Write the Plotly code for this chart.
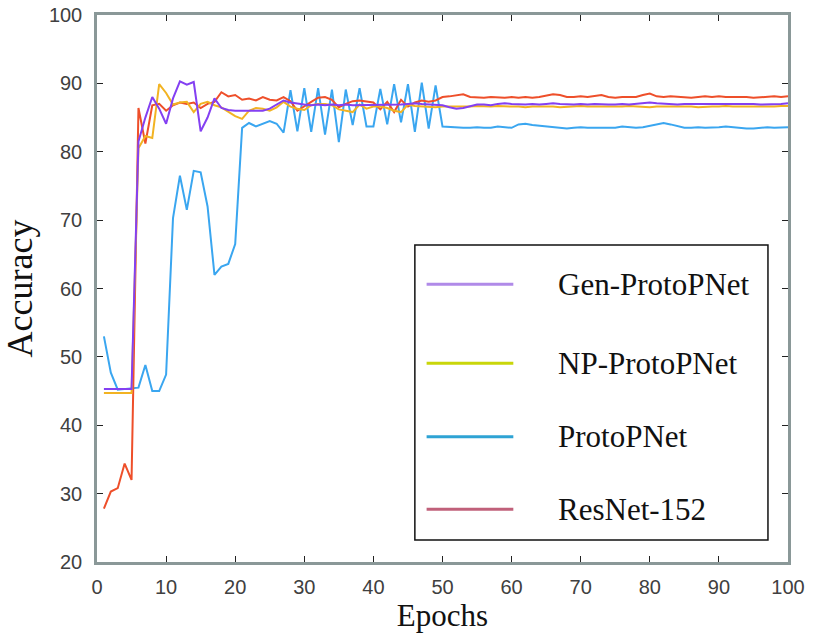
import plotly.graph_objects as go

epochs = list(range(1, 101))

gen_protopnet = [
    45.3, 45.3, 45.3, 45.3, 45.3, 81.5, 85.0, 88.0, 86.3, 84.1,
    87.8, 90.3, 89.8, 90.2, 83.0, 85.0, 87.8, 86.4, 86.1, 86.0,
    86.0, 86.1, 86.0, 86.0, 86.3, 86.9, 87.5, 87.2, 87.0, 86.9,
    86.8, 86.9, 86.8, 86.9, 86.8, 86.9, 86.8, 86.8, 86.9, 86.8,
    86.8, 86.9, 86.8, 86.9, 87.0, 87.1, 87.0, 86.9, 86.9, 86.8,
    86.5, 86.3, 86.4, 86.7, 86.9, 86.9, 86.8, 87.0, 87.1, 87.0,
    86.9, 86.9, 87.0, 86.9, 87.0, 87.1, 87.0, 86.9, 86.9, 87.0,
    86.9, 87.0, 86.9, 86.9, 86.9, 87.0, 86.9, 87.0, 87.1, 87.2,
    87.1, 87.0, 86.9, 86.9, 87.0, 87.0, 87.0, 87.0, 87.1, 87.1,
    87.0, 87.0, 87.0, 87.1, 87.0, 86.9, 86.9, 87.0, 87.0, 87.1,
]

np_protopnet = [
    44.7, 44.7, 44.7, 44.7, 44.7, 80.5, 82.3, 82.0, 89.9, 88.6,
    86.9, 87.2, 87.3, 85.8, 87.0, 87.3, 86.8, 86.5, 85.8, 85.2,
    84.8, 86.0, 86.4, 86.3, 86.0, 86.5, 87.3, 86.6, 86.3, 86.1,
    86.8, 87.0, 87.0, 86.8, 86.2, 86.0, 85.8, 86.9, 86.3, 86.6,
    86.6, 86.4, 86.0, 85.8, 86.9, 86.7, 86.6, 86.6, 86.5, 86.6,
    86.6, 86.5, 86.6, 86.6, 86.7, 86.6, 86.6, 86.7, 86.6, 86.6,
    86.6, 86.5, 86.6, 86.6, 86.7, 86.6, 86.5, 86.6, 86.6, 86.7,
    86.6, 86.6, 86.5, 86.6, 86.6, 86.6, 86.7, 86.6, 86.6, 86.5,
    86.6, 86.6, 86.6, 86.7, 86.6, 86.6, 86.5, 86.6, 86.6, 86.6,
    86.7, 86.6, 86.6, 86.6, 86.5, 86.6, 86.6, 86.6, 86.7, 86.7,
]

protopnet = [
    53.0, 47.7, 45.2, 45.3, 45.3, 45.5, 48.8, 45.0, 45.0, 47.4,
    70.3, 76.5, 71.5, 77.2, 77.0, 72.0, 62.0, 63.2, 63.6, 66.5,
    83.5, 84.2, 83.7, 84.1, 84.5, 84.1, 82.8, 89.0, 83.0, 89.3,
    82.9, 89.3, 82.5, 89.1, 81.4, 89.1, 83.9, 89.3, 83.7, 83.7,
    89.2, 84.0, 89.9, 84.3, 89.9, 82.9, 90.1, 83.4, 89.7, 83.7,
    83.6, 83.6, 83.5, 83.5, 83.6, 83.5, 83.5, 83.7, 83.6, 83.5,
    84.0, 84.1, 83.9, 83.8, 83.6, 83.6, 83.5, 83.4, 83.5, 83.6,
    83.5, 83.5, 83.6, 83.5, 83.5, 83.7, 83.6, 83.5, 83.6, 83.8,
    84.0, 84.2, 84.0, 83.7, 83.5, 83.5, 83.6, 83.5, 83.5, 83.6,
    83.7, 83.6, 83.4, 83.4, 83.4, 83.5, 83.6, 83.5, 83.5, 83.6,
]

resnet152 = [
    27.8, 30.3, 30.8, 34.4, 32.0, 86.4, 81.2, 86.8, 87.0, 86.0,
    86.8, 87.2, 87.0, 87.2, 86.4, 87.0, 87.3, 88.7, 88.1, 88.3,
    87.6, 87.8, 87.5, 88.0, 87.6, 87.5, 88.0, 87.4, 86.0, 86.7,
    87.3, 87.9, 88.0, 87.6, 86.5, 87.0, 87.4, 87.5, 87.3, 87.2,
    86.2, 87.3, 85.8, 87.6, 86.6, 87.2, 87.5, 87.3, 87.5, 88.0,
    88.1, 88.2, 88.4, 88.0, 87.9, 87.9, 88.0, 87.9, 87.9, 88.0,
    87.9, 88.0, 87.9, 88.0, 88.2, 88.4, 88.3, 88.0, 88.0, 88.1,
    88.0, 88.1, 88.3, 88.0, 87.9, 88.0, 88.0, 88.0, 88.3, 88.5,
    88.1, 88.0, 88.1, 88.0, 88.0, 87.9, 88.0, 88.1, 88.0, 88.1,
    88.0, 88.0, 88.1, 88.0, 87.9, 88.0, 88.0, 88.1, 88.0, 88.1,
]

series_names = ["Gen-ProtoPNet", "NP-ProtoPNet", "ProtoPNet", "ResNet-152"]
line_colors = {"Gen-ProtoPNet": "#8440F2", "NP-ProtoPNet": "#F2B322",
               "ProtoPNet": "#3AA6F0", "ResNet-152": "#EE4F2A"}
legend_colors = ["#B08AE8", "#C9D60A", "#2EA3D4", "#C0607A"]
series_values = {"Gen-ProtoPNet": gen_protopnet, "NP-ProtoPNet": np_protopnet,
                 "ProtoPNet": protopnet, "ResNet-152": resnet152}

x_ticks = list(range(0, 101, 10))
y_ticks = list(range(20, 101, 10))

fig = go.Figure()
for name in ["ProtoPNet", "ResNet-152", "NP-ProtoPNet", "Gen-ProtoPNet"]:
    fig.add_trace(go.Scatter(x=epochs, y=series_values[name], mode="lines",
                             name=name, showlegend=False,
                             line=dict(color=line_colors[name], width=2)))

axis_common = dict(showgrid=False, zeroline=False, showline=True, mirror="ticks",
                   linecolor="#8A9898", linewidth=2.5, ticks="inside", ticklen=6,
                   tickwidth=1.2, tickcolor="#222222", automargin=False,
                   tickfont=dict(family="Liberation Sans, Arial", size=20, color="#404040"))

serif = "Liberation Serif, Times New Roman"
fig.update_xaxes(range=[0, 100], tickvals=x_ticks, ticklabelstandoff=5,
                 title=dict(text="Epochs", font=dict(family=serif, size=31, color="#111111"), standoff=4),
                 **axis_common)
fig.update_yaxes(range=[20, 100], tickvals=y_ticks, ticklabelstandoff=8,
                 title=dict(text="Accuracy", font=dict(family=serif, size=36, color="#111111"), standoff=6),
                 **axis_common)

# Legend box drawn manually to match the reference layout
lx0, lx1, ly0, ly1 = 0.460, 0.971, 0.0402, 0.5795
fig.add_shape(type="rect", xref="paper", yref="paper", x0=lx0, x1=lx1, y0=ly0, y1=ly1,
              line=dict(color="#111111", width=1.5), fillcolor="white", layer="above")
entry_y = [0.5077, 0.3632, 0.2291, 0.0963]
for name, col, yy in zip(series_names, legend_colors, entry_y):
    fig.add_shape(type="line", xref="paper", yref="paper", x0=0.477, x1=0.6025, y0=yy, y1=yy,
                  line=dict(color=col, width=3), layer="above")
    fig.add_annotation(xref="paper", yref="paper", x=0.6643, y=yy, text=name, showarrow=False,
                       xanchor="left", yanchor="middle",
                       font=dict(family=serif, size=31, color="#111111"))

fig.update_layout(width=813, height=637, plot_bgcolor="white", paper_bgcolor="white",
                  margin=dict(l=97, r=25, t=15, b=75), showlegend=False)

fig.write_html("out.html", config={"displayModeBar": False},
               post_script="document.body.style.margin='0';document.body.style.padding='0';")
